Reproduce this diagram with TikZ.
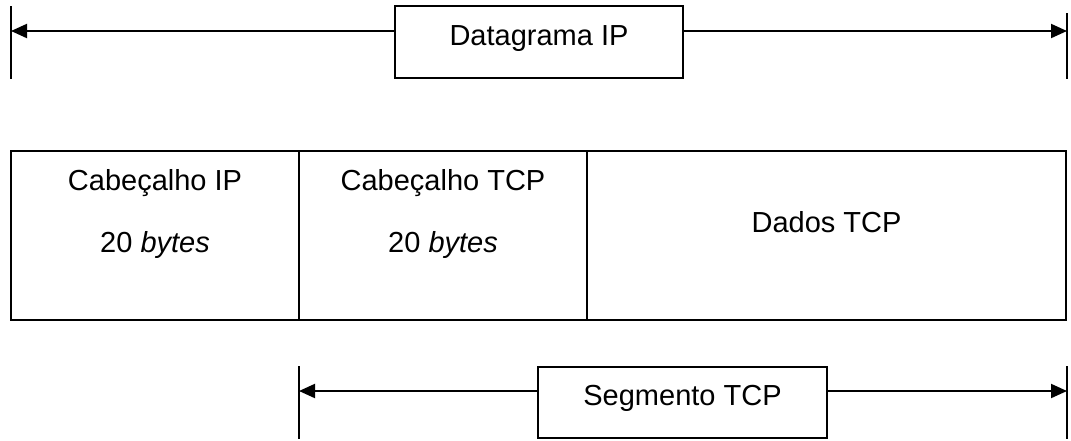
\documentclass[tikz,border=0pt]{standalone}
\usepackage{fontspec}
\setmainfont{Liberation Sans}
\usetikzlibrary{arrows.meta}
\begin{document}
\begin{tikzpicture}[x=1pt,y=-1pt,
  frame/.style={draw,line width=1.8pt,inner sep=0pt,outer sep=0pt,anchor=north west},
  tickline/.style={line width=1.4pt},
  span/.style={line width=2pt,-{Triangle[length=16pt,width=14pt]}},
  lbl/.style={anchor=base,inner sep=0pt,font=\fontsize{29}{35}\selectfont}]
\useasboundingbox (0,0) rectangle (1071,440);

% --- IP datagram span ---
\node[frame,minimum width=288pt,minimum height=72pt] (dgbox) at (395,6) {};
\node[lbl] (dgtxt) at (539,45) {Datagrama IP};
\coordinate (dgL1) at (11,6);   \coordinate (dgL2) at (11,79);
\coordinate (dgR1) at (1067,13); \coordinate (dgR2) at (1067,79);
\coordinate (dgLa) at (11,31);  \coordinate (dgRa) at (1067,31);
\draw[tickline] (dgL1) -- (dgL2);
\draw[tickline] (dgR1) -- (dgR2);
\draw[span] (dgbox.west |- dgLa) -- (dgLa);
\draw[span] (dgbox.east |- dgRa) -- (dgRa);

% --- datagram layout ---
\node[frame,minimum width=288pt,minimum height=169pt] (iph) at (11,151) {};
\node[frame,minimum width=288pt,minimum height=169pt] (tcph) at (299,151) {};
\node[frame,minimum width=479pt,minimum height=169pt] (data) at (587,151) {};
\node[lbl] (iphA) at (155,190) {Cabeçalho IP};
\node[lbl] (iphB) at (155,252) {20 \textit{bytes}};
\node[lbl] (tcphA) at (443,190) {Cabeçalho TCP};
\node[lbl] (tcphB) at (443,252) {20 \textit{bytes}};
\node[lbl] (dataA) at (826.5,232) {Dados TCP};

% --- TCP segment span ---
\node[frame,minimum width=289pt,minimum height=71pt] (sgbox) at (538,367) {};
\node[lbl] (sgtxt) at (682.5,405) {Segmento TCP};
\coordinate (sgL1) at (299,366);  \coordinate (sgL2) at (299,439);
\coordinate (sgR1) at (1067,366); \coordinate (sgR2) at (1067,439);
\coordinate (sgLa) at (299,391);  \coordinate (sgRa) at (1067,391);
\draw[tickline] (sgL1) -- (sgL2);
\draw[tickline] (sgR1) -- (sgR2);
\draw[span] (sgbox.west |- sgLa) -- (sgLa);
\draw[span] (sgbox.east |- sgRa) -- (sgRa);
\end{tikzpicture}
\end{document}
